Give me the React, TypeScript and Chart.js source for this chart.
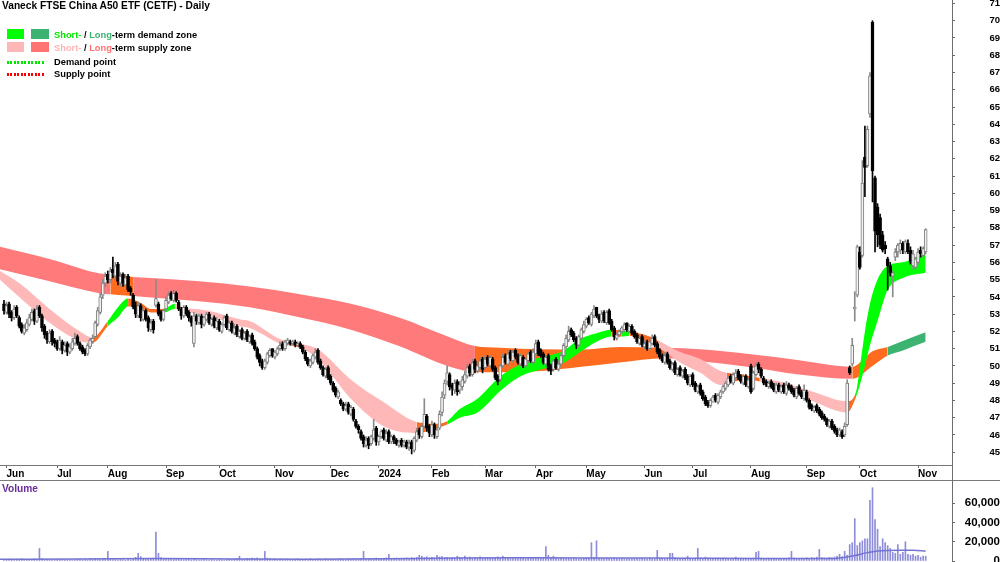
import React, { useEffect, useRef } from "react";
import { Chart, registerables } from "chart.js";

Chart.register(...registerables);

const FONT = '"Liberation Sans", Arial, Helvetica, sans-serif';

// ---- x axis (trading-day index) ----
const monthIdx = [1, 21, 41, 64, 85, 107, 129, 148, 169, 190, 210, 230, 253, 272, 295, 317, 338, 361];
const monthLabels = ["Jun", "Jul", "Aug", "Sep", "Oct", "Nov", "Dec", "2024", "Feb", "Mar", "Apr", "May", "Jun", "Jul", "Aug", "Sep", "Oct", "Nov"];
const priceTicks = [45, 46, 47, 48, 49, 50, 51, 52, 53, 54, 55, 56, 57, 58, 59, 60, 61, 62, 63, 64, 65, 66, 67, 68, 69, 70, 71];
const volTicks = [0, 20000, 40000, 60000];

// ---- daily candles ----
const opens = [
  53.6, 53.1, 53.6, 53.1, 52.8, 53.4, 52.8, 52.4, 51.9, 52.1,
  52.4, 52.7, 53.2, 52.6, 53.4, 52.9, 52.3, 51.9, 51.4, 52.0,
  51.5, 51.4, 51.0, 51.4, 50.9, 51.3, 50.8, 51.0, 51.3, 51.7,
  51.3, 51.1, 50.9, 50.7, 51.1, 51.4, 51.7, 52.4, 53.1, 54.1,
  54.8, 55.3, 55.0, 55.6, 55.2, 55.9, 54.8, 55.3, 54.7, 55.2,
  54.5, 54.1, 53.5, 52.9, 53.5, 52.7, 53.2, 52.8, 52.1, 52.6,
  53.5, 53.6, 53.1, 52.7, 53.3, 53.7, 54.2, 53.8, 54.2, 53.7,
  53.3, 52.9, 53.4, 53.1, 52.8, 51.3, 52.9, 52.5, 52.9, 52.4,
  52.7, 53.0, 52.4, 52.8, 52.2, 52.6, 52.0, 52.4, 52.9, 52.1,
  52.5, 51.9, 52.3, 51.7, 52.1, 51.6, 52.0, 51.4, 51.8, 51.4,
  51.0, 50.6, 50.3, 49.9, 50.2, 50.6, 51.0, 50.5, 50.7, 51.0,
  51.3, 51.0, 51.3, 51.4, 51.3, 51.4, 51.2, 51.3, 51.1, 50.8,
  50.4, 50.0, 50.2, 50.5, 50.9, 50.3, 49.9, 49.4, 49.9, 49.4,
  49.0, 48.7, 48.2, 48.0, 47.8, 47.5, 47.8, 47.2, 47.5, 46.8,
  46.5, 46.2, 45.9, 45.4, 45.8, 45.5, 45.8, 46.4, 45.6, 45.9,
  46.3, 45.7, 46.2, 45.6, 45.9, 45.7, 45.4, 45.7, 45.4, 45.6,
  45.3, 45.6, 45.1, 45.7, 46.3, 45.9, 46.5, 47.1, 46.5, 46.0,
  46.6, 45.9, 46.4, 47.3, 48.3, 49.1, 49.5, 48.9, 48.6, 49.1,
  48.6, 48.8, 49.1, 49.4, 50.0, 49.5, 50.3, 49.7, 49.9, 50.4,
  49.9, 50.5, 50.0, 50.4, 49.9, 49.4, 49.2, 50.0, 50.6, 50.1,
  50.8, 50.3, 50.9, 50.6, 50.1, 50.5, 50.0, 50.3, 50.8, 50.2,
  50.7, 51.4, 50.9, 50.7, 50.1, 50.6, 50.0, 49.8, 50.4, 49.8,
  50.1, 50.6, 51.1, 51.5, 52.1, 51.9, 51.6, 51.2, 51.6, 52.0,
  52.3, 52.8, 52.4, 52.9, 53.4, 52.9, 52.6, 53.1, 52.5, 53.2,
  52.6, 52.2, 51.6, 51.8, 52.0, 52.1, 52.5, 52.0, 52.3, 52.0,
  51.8, 51.3, 51.7, 51.1, 51.4, 51.0, 51.3, 51.7, 51.3, 50.9,
  50.6, 50.2, 50.7, 50.3, 49.8, 50.2, 49.5, 49.9, 49.4, 49.8,
  49.4, 48.9, 49.5, 49.0, 48.5, 48.9, 48.5, 48.2, 47.9, 47.7,
  47.9, 48.3, 47.9, 48.2, 48.5, 48.7, 48.9, 49.4, 49.0, 49.3,
  49.7, 49.4, 49.0, 49.4, 48.8, 50.0, 48.7, 49.5, 50.1, 49.8,
  49.3, 49.1, 48.8, 49.1, 48.9, 48.5, 48.9, 48.5, 48.9, 48.4,
  48.9, 48.8, 48.6, 48.2, 48.8, 48.5, 48.1, 48.5, 48.0, 47.7,
  47.4, 47.7, 47.5, 47.3, 47.1, 46.9, 46.5, 46.8, 46.5, 46.3,
  46.0, 46.2, 46.0, 46.6, 49.9, 50.1, 53.3, 54.1, 56.6, 56.4,
  62.1, 61.6, 64.6, 69.9, 60.9, 59.2, 58.6, 57.6, 57.0, 56.2,
  55.8, 55.2, 56.3, 56.6, 56.7, 57.1, 56.6, 57.1, 56.7, 55.8,
  55.7, 56.0, 56.7, 56.4, 56.6,
];
const highs = [
  53.8, 53.7, 53.7, 53.2, 53.5, 53.5, 52.9, 52.5, 52.4, 52.7,
  53.0, 53.3, 53.3, 53.5, 53.5, 53.0, 52.4, 52.0, 52.1, 52.1,
  51.6, 51.5, 51.7, 51.5, 51.4, 51.4, 51.3, 51.6, 51.9, 51.8,
  51.4, 51.2, 51.0, 51.3, 51.6, 51.8, 52.6, 53.4, 54.2, 55.0,
  55.4, 55.5, 55.7, 56.3, 56.0, 56.0, 55.4, 55.4, 55.3, 55.3,
  54.6, 54.2, 53.7, 53.7, 53.6, 53.4, 53.3, 52.9, 52.7, 52.7,
  55.0, 53.7, 53.2, 53.3, 54.0, 54.3, 54.3, 54.4, 54.3, 53.8,
  53.4, 53.5, 53.5, 53.2, 52.9, 53.1, 53.0, 53.0, 53.0, 52.9,
  53.1, 53.1, 52.8, 52.9, 52.8, 52.7, 52.5, 52.9, 53.0, 52.6,
  52.6, 52.4, 52.4, 52.1, 52.2, 52.0, 52.1, 51.8, 51.9, 51.5,
  51.1, 50.7, 50.4, 50.4, 50.8, 51.0, 51.0, 50.9, 51.1, 51.4,
  51.4, 51.5, 51.6, 51.5, 51.5, 51.5, 51.4, 51.4, 51.2, 50.9,
  50.5, 50.4, 50.7, 51.0, 51.0, 50.4, 50.0, 49.9, 50.0, 49.5,
  49.1, 48.8, 48.6, 48.1, 47.9, 47.9, 47.9, 47.7, 47.6, 46.9,
  46.6, 46.3, 46.0, 45.9, 45.9, 46.0, 46.9, 46.5, 46.0, 46.3,
  46.4, 46.3, 46.3, 46.0, 46.0, 45.8, 45.7, 45.8, 45.7, 45.7,
  45.7, 45.7, 45.9, 46.4, 46.4, 46.7, 48.1, 47.2, 46.6, 46.8,
  46.7, 46.4, 47.4, 48.5, 49.2, 50.0, 49.6, 49.0, 49.2, 49.2,
  49.1, 49.4, 49.7, 50.1, 50.1, 50.4, 50.4, 50.2, 50.5, 50.5,
  50.6, 50.6, 50.6, 50.5, 50.0, 49.5, 50.1, 50.7, 50.7, 50.9,
  50.9, 50.9, 51.0, 50.7, 50.7, 50.6, 50.5, 50.8, 50.9, 51.0,
  51.5, 51.5, 51.0, 50.8, 50.6, 50.7, 50.1, 50.4, 50.5, 50.3,
  50.7, 51.3, 51.8, 52.3, 52.2, 52.0, 51.7, 51.8, 52.2, 52.6,
  52.8, 52.9, 53.1, 53.5, 53.4, 53.0, 53.2, 53.2, 53.2, 53.3,
  52.7, 52.3, 51.9, 52.1, 52.3, 52.5, 52.5, 52.4, 52.4, 52.1,
  51.9, 51.8, 51.8, 51.5, 51.5, 51.6, 51.8, 51.8, 51.4, 51.0,
  50.7, 50.8, 50.8, 50.4, 50.2, 50.3, 49.9, 50.0, 49.8, 49.9,
  49.5, 49.5, 49.6, 49.1, 48.9, 49.0, 48.6, 48.3, 48.0, 48.1,
  48.3, 48.4, 48.4, 48.6, 48.9, 49.1, 49.4, 49.5, 49.6, 49.8,
  49.8, 49.5, 49.5, 49.5, 49.3, 50.1, 49.7, 50.2, 50.2, 49.9,
  49.4, 49.2, 49.1, 49.2, 49.0, 49.0, 49.0, 48.9, 49.0, 49.1,
  49.0, 48.9, 48.7, 48.8, 48.9, 48.6, 48.9, 48.6, 48.1, 47.8,
  47.7, 47.8, 47.6, 47.4, 47.2, 47.0, 46.9, 46.9, 46.6, 46.4,
  46.4, 46.3, 46.7, 49.2, 50.0, 51.6, 54.3, 57.0, 56.9, 61.9,
  63.9, 63.9, 67.0, 70.0, 61.0, 59.4, 58.8, 57.8, 57.2, 56.3,
  56.0, 55.5, 56.8, 57.1, 57.3, 57.2, 57.3, 57.3, 56.9, 56.7,
  56.3, 56.8, 56.9, 56.9, 57.95,
];
const lows = [
  53.0, 53.0, 52.8, 52.6, 52.7, 52.8, 52.2, 51.9, 51.8, 52.0,
  52.3, 52.6, 52.4, 52.5, 52.8, 52.0, 51.6, 51.3, 51.3, 51.2,
  51.1, 50.9, 50.9, 50.7, 50.8, 50.6, 50.7, 50.9, 51.2, 51.2,
  50.9, 50.7, 50.6, 50.6, 51.0, 51.3, 51.6, 52.3, 53.0, 53.9,
  54.6, 54.8, 54.8, 55.1, 55.0, 54.7, 54.6, 54.6, 54.6, 54.3,
  54.1, 53.3, 52.8, 52.8, 52.6, 52.6, 52.6, 52.0, 52.0, 51.9,
  53.4, 52.9, 52.6, 52.6, 53.2, 53.6, 53.8, 53.7, 53.7, 53.2,
  52.7, 52.8, 52.9, 52.6, 52.3, 51.1, 52.4, 52.4, 52.2, 52.3,
  52.6, 52.4, 52.3, 52.2, 52.1, 52.0, 51.9, 52.3, 52.1, 52.0,
  51.9, 51.8, 51.7, 51.6, 51.5, 51.5, 51.4, 51.3, 51.2, 50.9,
  50.4, 50.0, 49.8, 49.8, 50.1, 50.5, 50.5, 50.4, 50.6, 50.9,
  50.9, 50.9, 51.2, 51.2, 51.2, 51.1, 51.1, 51.0, 50.7, 50.3,
  50.0, 49.9, 50.1, 50.4, 50.1, 49.8, 49.4, 49.3, 49.2, 48.9,
  48.5, 48.2, 48.1, 47.7, 47.4, 47.4, 47.2, 47.1, 46.8, 46.4,
  46.1, 45.7, 45.3, 45.3, 45.2, 45.4, 45.7, 45.4, 45.4, 45.8,
  45.7, 45.6, 45.5, 45.5, 45.5, 45.4, 45.3, 45.3, 45.3, 45.2,
  45.1, 44.9, 45.0, 45.6, 45.8, 45.8, 46.4, 46.2, 45.9, 45.9,
  45.8, 45.8, 46.3, 47.1, 48.1, 48.9, 48.6, 48.3, 48.4, 48.3,
  48.4, 48.6, 49.0, 49.3, 49.4, 49.4, 49.6, 49.6, 49.8, 49.6,
  49.8, 50.0, 49.9, 49.7, 49.2, 48.9, 49.1, 49.9, 50.1, 50.0,
  50.3, 50.2, 50.4, 50.1, 50.0, 49.9, 49.9, 50.2, 50.2, 50.1,
  50.6, 50.6, 50.5, 50.1, 50.0, 49.7, 49.5, 49.7, 49.8, 49.7,
  49.9, 50.5, 51.0, 51.4, 51.7, 51.4, 51.0, 51.1, 51.5, 51.9,
  52.2, 52.4, 52.3, 52.8, 52.8, 52.5, 52.5, 52.5, 52.4, 52.4,
  52.0, 51.5, 51.5, 51.7, 51.9, 52.0, 52.0, 51.9, 51.8, 51.6,
  51.3, 51.2, 51.1, 51.0, 50.9, 50.9, 51.2, 51.1, 50.7, 50.4,
  50.2, 50.1, 50.1, 49.8, 49.7, 49.5, 49.4, 49.4, 49.3, 49.2,
  48.9, 48.8, 48.8, 48.5, 48.4, 48.3, 48.0, 47.7, 47.6, 47.6,
  47.9, 47.9, 47.8, 48.1, 48.4, 48.6, 48.8, 49.0, 48.9, 49.2,
  49.2, 49.0, 48.9, 48.8, 48.7, 48.4, 48.6, 49.4, 49.6, 49.3,
  48.9, 48.8, 48.7, 48.7, 48.5, 48.4, 48.5, 48.4, 48.4, 48.3,
  48.6, 48.4, 48.2, 48.1, 48.3, 48.1, 48.0, 47.9, 47.5, 47.4,
  47.3, 47.3, 47.1, 46.9, 46.8, 46.5, 46.4, 46.3, 46.1, 45.9,
  45.9, 45.8, 45.9, 46.5, 49.5, 50.0, 52.6, 54.0, 55.6, 56.3,
  59.8, 61.5, 64.4, 59.5, 56.6, 56.9, 56.8, 56.6, 56.5, 54.4,
  55.2, 54.0, 56.1, 56.3, 56.5, 56.5, 56.5, 56.5, 55.9, 55.6,
  55.6, 55.9, 56.3, 56.3, 56.5,
];
const closes = [
  53.2, 53.5, 53.0, 52.8, 53.3, 52.9, 52.3, 52.0, 52.2, 52.5,
  52.8, 53.1, 52.6, 53.3, 52.9, 52.2, 51.8, 51.5, 51.9, 51.4,
  51.3, 51.0, 51.5, 50.9, 51.2, 50.8, 51.1, 51.4, 51.6, 51.3,
  51.0, 50.8, 50.7, 51.2, 51.5, 51.6, 52.5, 53.2, 54.0, 54.8,
  55.2, 55.0, 55.5, 55.4, 55.8, 54.9, 55.2, 54.8, 55.1, 54.4,
  54.3, 53.4, 53.0, 53.5, 52.8, 53.2, 52.7, 52.2, 52.5, 52.1,
  53.9, 53.0, 52.7, 53.2, 53.8, 54.1, 53.9, 54.2, 53.8, 53.3,
  52.9, 53.4, 53.0, 52.8, 52.5, 52.9, 52.6, 52.9, 52.4, 52.8,
  53.0, 52.5, 52.7, 52.3, 52.6, 52.1, 52.4, 52.8, 52.2, 52.5,
  52.0, 52.2, 51.8, 52.0, 51.6, 51.9, 51.5, 51.7, 51.3, 51.0,
  50.5, 50.2, 49.9, 50.3, 50.7, 50.9, 50.6, 50.8, 51.0, 51.2,
  51.0, 51.4, 51.5, 51.3, 51.4, 51.2, 51.3, 51.1, 50.8, 50.4,
  50.1, 50.3, 50.6, 50.8, 50.2, 49.9, 49.5, 49.8, 49.3, 49.0,
  48.6, 48.3, 48.5, 47.8, 47.5, 47.7, 47.3, 47.6, 46.9, 46.5,
  46.3, 45.8, 45.5, 45.7, 45.4, 45.9, 46.3, 45.6, 45.9, 46.2,
  45.8, 46.1, 45.6, 45.9, 45.7, 45.5, 45.6, 45.4, 45.6, 45.3,
  45.5, 45.2, 45.8, 46.2, 46.0, 46.5, 47.2, 46.4, 46.1, 46.6,
  46.0, 46.3, 47.2, 48.2, 49.0, 49.6, 48.8, 48.7, 49.0, 48.5,
  48.9, 49.2, 49.5, 49.9, 49.6, 50.2, 49.8, 50.0, 50.3, 49.8,
  50.4, 50.1, 50.5, 49.8, 49.3, 49.1, 50.0, 50.5, 50.2, 50.7,
  50.4, 50.8, 50.5, 50.2, 50.6, 50.0, 50.4, 50.7, 50.3, 50.8,
  51.3, 50.7, 50.6, 50.2, 50.5, 49.8, 49.7, 50.3, 49.9, 50.1,
  50.6, 51.2, 51.6, 52.0, 51.8, 51.5, 51.2, 51.7, 52.1, 52.4,
  52.7, 52.5, 53.0, 53.3, 52.9, 52.7, 53.0, 52.6, 53.1, 52.5,
  52.1, 51.7, 51.8, 52.0, 52.2, 52.4, 52.1, 52.3, 51.9, 51.7,
  51.4, 51.6, 51.2, 51.3, 51.0, 51.4, 51.6, 51.2, 50.8, 50.5,
  50.3, 50.6, 50.2, 49.9, 50.1, 49.6, 49.8, 49.5, 49.7, 49.3,
  49.0, 49.4, 48.9, 48.6, 48.8, 48.4, 48.1, 47.8, 47.7, 48.0,
  48.2, 48.0, 48.3, 48.5, 48.8, 49.0, 49.3, 49.1, 49.5, 49.6,
  49.3, 49.1, 49.4, 48.9, 49.2, 48.5, 49.6, 50.0, 49.8, 49.4,
  49.0, 48.9, 49.0, 48.8, 48.6, 48.9, 48.6, 48.8, 48.5, 48.9,
  48.7, 48.5, 48.3, 48.7, 48.4, 48.2, 48.6, 48.0, 47.6, 47.5,
  47.6, 47.4, 47.2, 47.0, 46.9, 46.6, 46.8, 46.4, 46.2, 46.0,
  46.3, 45.9, 46.5, 49.0, 49.6, 51.2, 53.4, 56.9, 55.7, 60.6,
  61.5, 63.7, 66.8, 61.3, 57.8, 57.6, 57.0, 56.7, 56.8, 55.8,
  55.4, 55.4, 56.6, 57.0, 57.1, 56.7, 57.2, 56.6, 56.0, 56.5,
  56.2, 56.6, 56.5, 56.8, 57.9,
];
const volumes = [
  1500, 1200, 2000, 900, 1800, 1300, 1100, 2200, 1400, 1000,
  1600, 1300, 2100, 1700, 13000, 2400, 1200, 1500, 1100, 1800,
  900, 1400, 1300, 2000, 1100, 1600, 1200, 900, 1500, 1300,
  1800, 1000, 1400, 1200, 2100, 1600, 2500, 1900, 1400, 2200,
  1700, 10000, 2300, 1500, 1800, 1200, 2000, 1400, 1100, 1700,
  1300, 2600, 3800, 8000, 4500, 2200, 2800, 1900, 2400, 3000,
  30000, 8000, 3500, 2600, 2000, 1800, 2400, 1500, 1900, 2100,
  1600, 1300, 2200, 1700, 1200, 2500, 1500, 1100, 1400, 1800,
  1300, 1000, 1600, 1200, 900, 1500, 1300, 1100, 1700, 2000,
  1400, 2300, 2600, 5000, 1800, 1500, 2700, 2200, 3000, 2400,
  3200, 2100, 1800, 10000, 3000, 2500, 1900, 2300, 1600, 2000,
  1800, 1500, 2200, 1300, 1700, 1900, 2400, 1600, 1400, 2100,
  1800, 2600, 1500, 1900, 2200, 1700, 1300, 2400, 1800, 1600,
  2000, 1500, 1900, 2300, 1700, 1400, 2100, 1800, 2500, 1600,
  1900, 2400, 10000, 2200, 2800, 1900, 2600, 3100, 2400, 2000,
  2700, 3300, 7000, 2600, 2200, 3000, 2500, 1900, 2800, 3200,
  2600, 3500, 2900, 3800, 6000, 5000, 3600, 4200, 3100, 3900,
  3300, 6000, 4200, 4500, 3400, 3800, 2900, 3600, 3100, 5000,
  3700, 2800, 5000, 3300, 4100, 2600, 3500, 3000, 4200, 3300,
  2900, 3600, 3100, 2700, 3800, 4300, 3200, 5000, 3000, 2800,
  3400, 2600, 3100, 2400, 3600, 2900, 2500, 3300, 2700, 3100,
  2600, 4000, 2800, 3200, 15000, 6000, 3300, 5000, 2900, 2400,
  3000, 2500, 2200, 2800, 2100, 2600, 2300, 1900, 2500, 2800,
  3200, 2700, 19000, 3500, 21000, 3000, 2600, 2300, 2900, 2500,
  2200, 2800, 2400, 2000, 2600, 2300, 1900, 2500, 2100, 2700,
  2300, 2000, 2600, 2200, 1800, 2900, 2400, 2100, 11000, 3100,
  2700, 2300, 2900, 8000, 8000, 3200, 2600, 2200, 2800, 2400,
  5000, 2600, 2300, 2900, 13000, 3300, 2700, 4000, 3000, 2500,
  2800, 2300, 2600, 2200, 2900, 2400, 2000, 2700, 2300, 4000,
  2500, 2200, 2800, 2400, 2000, 2600, 3000, 9000, 10000, 3100,
  2600, 2200, 2900, 2400, 2100, 2700, 2300, 2000, 2800, 2500,
  3200, 10000, 3000, 2600, 2300, 2900, 2500, 3300, 2800, 3500,
  3000, 4000, 12000, 3600, 3200, 2900, 3800, 3300, 4100, 5000,
  7000, 4500, 10000, 6000, 17000, 19000, 44000, 16000, 19000, 21000,
  23000, 23000, 63000, 76000, 43000, 33000, 15000, 23000, 19000, 16000,
  13000, 9000, 8000, 17000, 7000, 9000, 20000, 7000, 6000, 7000,
  5000, 6000, 4000, 5000, 5000,
];

// ---- volume moving average ----
const volMaX = [-1.6, 30, 60, 90, 120, 150, 180, 210, 240, 270, 300, 327, 335, 341, 345, 354, 359, 364];
const volMa = [1800, 2000, 2600, 2200, 1900, 2300, 3200, 3300, 3100, 2900, 2700, 2500, 5200, 8700, 10500, 11100, 11100, 10400];

// ---- long-term zone band ----
const ltX = [-1.6, 18, 38, 42, 51, 58, 77, 97, 117, 137, 156, 176, 186, 196, 212, 228, 243, 261, 275, 295, 314, 335, 343, 349, 355, 364];
const ltUpper = [56.9, 56.2, 55.35, 55.3, 55.15, 55.1, 54.9, 54.6, 54.15, 53.6, 52.8, 51.66, 51.15, 51.05, 50.96, 50.95, 51.1, 51.05, 50.96, 50.67, 50.33, 49.95, 50.85, 51.1, 51.45, 51.95];
const ltLower = [55.6, 54.9, 54.2, 54.15, 54.05, 53.97, 53.75, 53.4, 52.8, 52.1, 51.15, 49.95, 49.65, 49.63, 49.7, 49.95, 50.2, 50.45, 50.27, 49.92, 49.5, 49.25, 50.0, 50.6, 50.9, 51.4];
const ltZone = ["S", "S", "S", "O", "S", "S", "S", "S", "S", "S", "S", "S", "O", "O", "O", "O", "O", "S", "S", "S", "S", "O", "O", "D", "D", "-"];

// ---- short-term zone band ----
const stX = [-1.6, 6, 18, 30, 35, 41, 45, 49, 54, 58, 63, 67.5, 69.5, 81, 93, 97, 110, 113, 117, 124, 137, 150, 163, 170, 175, 180, 187, 196, 204, 212, 220, 228, 234, 240, 244, 247, 253, 258, 267, 275, 283, 285.5, 293.5, 298.5, 306.5, 319.5, 333, 336.5, 338, 340, 342, 345, 349, 355, 364];
const stUpper = [55.5, 54.8, 53.3, 52.0, 51.65, 52.6, 53.4, 53.9, 53.65, 53.3, 53.3, 53.6, 53.45, 53.2, 52.7, 52.6, 51.5, 51.45, 51.3, 50.96, 49.2, 47.9, 46.75, 46.65, 46.8, 47.5, 48.1, 49.4, 50.1, 50.5, 50.8, 51.6, 51.9, 52.1, 52.05, 52.0, 51.8, 51.5, 50.8, 50.4, 49.7, 49.6, 49.45, 49.3, 49.1, 48.5, 47.95, 48.5, 49.9, 52.0, 53.6, 55.0, 55.8, 56.0, 56.5];
const stLower = [55.0, 54.0, 52.5, 51.45, 51.35, 52.3, 52.8, 53.45, 53.35, 53.1, 53.1, 53.3, 53.2, 52.9, 52.3, 52.2, 51.25, 51.2, 51.05, 50.4, 48.1, 46.5, 46.1, 46.35, 46.6, 47.0, 47.3, 48.55, 49.4, 49.8, 50.1, 50.85, 51.4, 51.7, 51.7, 51.75, 51.4, 51.1, 50.2, 49.6, 48.9, 49.0, 49.2, 49.1, 48.8, 47.95, 47.3, 48.2, 48.9, 50.0, 51.2, 52.6, 54.4, 55.1, 55.4];
const stZone = ["s", "s", "s", "s", "O", "g", "g", "O", "O", "O", "g", "s", "s", "s", "s", "s", "s", "O", "s", "s", "s", "s", "O", "O", "g", "g", "g", "g", "g", "g", "g", "g", "g", "O", "g", "O", "O", "s", "s", "s", "s", "O", "O", "s", "s", "s", "O", "g", "g", "g", "g", "g", "g", "g", "-"];

const X_MIN = -1.58;
const X_MAX = 374.4;

const ZONE_COLORS: Record<string, string> = {
  S: "#ff7b7b",
  s: "#ffb8b8",
  O: "#ff6b1f",
  g: "#00ff00",
  D: "#3cb371",
  "-": "rgba(0,0,0,0)",
};

function bandDatasets(xs: number[], upper: number[], lower: number[], zones: string[], order: number) {
  return [
    {
      type: "line",
      data: xs.map((x, i) => ({ x, y: upper[i] })),
      borderColor: "rgba(0,0,0,0)",
      borderWidth: 1,
      pointRadius: 0,
      pointHoverRadius: 0,
      fill: "+1",
      backgroundColor: ZONE_COLORS[zones[0]],
      cubicInterpolationMode: "monotone",
      segment: { backgroundColor: (c: any) => ZONE_COLORS[zones[c.p0DataIndex]] },
      order,
    },
    {
      type: "line",
      data: xs.map((x, i) => ({ x, y: lower[i] })),
      borderColor: "rgba(0,0,0,0)",
      borderWidth: 1,
      pointRadius: 0,
      pointHoverRadius: 0,
      fill: false,
      cubicInterpolationMode: "monotone",
      order: order - 1,
    },
  ];
}

const fmtThousands = (v: number) => String(v).replace(/\B(?=(\d{3})+(?!\d))/g, ",");

// strip the automatic label-overflow padding Chart.js reserves around a scale
const noScalePadding = (s: any) => {
  s.paddingTop = 0;
  s.paddingBottom = 0;
  s.paddingLeft = 0;
  s.paddingRight = 0;
};

export default function App() {
  const priceRef = useRef<HTMLCanvasElement>(null);
  const volRef = useRef<HTMLCanvasElement>(null);

  useEffect(() => {
    const up = (i: number) => closes[i] >= opens[i];
    const wickData = closes.map((_, i) => ({ x: i, y: [lows[i], highs[i]] }));
    const bodyData = closes.map((_, i) => ({ x: i, y: [opens[i], closes[i]] }));

    const price = new Chart(priceRef.current as HTMLCanvasElement, {
      type: "bar",
      data: {
        datasets: [
          ...bandDatasets(ltX, ltUpper, ltLower, ltZone, 10),
          ...bandDatasets(stX, stUpper, stLower, stZone, 8),
          {
            type: "bar",
            data: wickData,
            barThickness: 1,
            grouped: false,
            backgroundColor: (c: any) => (up(c.dataIndex) ? "#8a8a8a" : "#000000"),
            borderWidth: 0,
            order: 2,
          },
          {
            type: "bar",
            data: bodyData,
            barThickness: 3,
            grouped: false,
            minBarLength: 1,
            backgroundColor: (c: any) => (up(c.dataIndex) ? "#f2f2f2" : "#000000"),
            borderColor: (c: any) => (up(c.dataIndex) ? "#7d7d7d" : "#000000"),
            borderWidth: 1,
            borderSkipped: false,
            order: 1,
          },
        ] as any,
      },
      options: {
        responsive: false,
        maintainAspectRatio: false,
        animation: false,
        devicePixelRatio: 1,
        events: [],
        layout: { autoPadding: false, padding: 0 },
        plugins: { legend: { display: false }, tooltip: { enabled: false }, title: { display: false } },
        scales: {
          x: {
            type: "linear",
            min: X_MIN,
            max: X_MAX,
            offset: false,
            position: "bottom",
            afterBuildTicks: (s: any) => {
              s.ticks = monthIdx.map((v) => ({ value: v }));
            },
            afterFit: (s: any) => {
              s.height = 15;
              noScalePadding(s);
            },
            ticks: {
              callback: (_v: any, i: number) => monthLabels[i],
              align: "start",
              autoSkip: false,
              maxRotation: 0,
              minRotation: 0,
              padding: 0,
              color: "#000",
              font: { family: FONT, size: 10, weight: "bold" },
            },
            grid: { display: true, drawOnChartArea: false, drawTicks: true, tickLength: 3, color: "#666", offset: false },
            border: { display: true, color: "#777" },
          },
          y: {
            type: "linear",
            position: "right",
            min: 44.26,
            max: 71.2,
            beginAtZero: false,
            afterBuildTicks: (s: any) => {
              s.ticks = priceTicks.map((v) => ({ value: v }));
            },
            afterFit: (s: any) => {
              s.width = 48;
              noScalePadding(s);
            },
            ticks: {
              crossAlign: "far",
              padding: 31,
              autoSkip: false,
              color: "#000",
              font: { family: FONT, size: 9.5, weight: "bold" },
            },
            grid: { display: true, drawOnChartArea: false, drawTicks: true, tickLength: 3, color: "#666" },
            border: { display: false },
          },
        },
      } as any,
    });

    const vol = new Chart(volRef.current as HTMLCanvasElement, {
      type: "bar",
      data: {
        datasets: [
          {
            type: "line",
            data: volMaX.map((x, i) => ({ x, y: volMa[i] })),
            borderColor: "#7373d2",
            borderWidth: 1.5,
            pointRadius: 0,
            fill: false,
            cubicInterpolationMode: "monotone",
            order: 0,
          },
          {
            type: "bar",
            data: volumes.map((v, i) => ({ x: i, y: v })),
            barThickness: 1,
            grouped: false,
            backgroundColor: "#8d8ddb",
            borderWidth: 0,
            order: 1,
          },
        ] as any,
      },
      options: {
        responsive: false,
        maintainAspectRatio: false,
        animation: false,
        devicePixelRatio: 1,
        events: [],
        layout: { autoPadding: false, padding: { left: 0, right: 0, top: 0, bottom: 1 } },
        plugins: { legend: { display: false }, tooltip: { enabled: false } },
        scales: {
          x: { type: "linear", min: X_MIN, max: X_MAX, offset: false, display: false },
          y: {
            type: "linear",
            position: "right",
            min: 0,
            max: 83000,
            beginAtZero: true,
            afterBuildTicks: (s: any) => {
              s.ticks = volTicks.map((v) => ({ value: v }));
            },
            afterFit: (s: any) => {
              s.width = 48;
              noScalePadding(s);
            },
            ticks: {
              crossAlign: "far",
              padding: 7,
              autoSkip: false,
              color: "#000",
              callback: (v: any) => fmtThousands(Number(v)),
              font: { family: FONT, size: 11.5, weight: "bold" },
            },
            grid: { display: true, drawOnChartArea: false, drawTicks: true, tickLength: 3, color: "#666" },
            border: { display: false },
          },
        },
      } as any,
    });

    return () => {
      price.destroy();
      vol.destroy();
    };
  }, []);

  const legendText: React.CSSProperties = {
    position: "absolute",
    left: 54,
    fontSize: 9.3,
    fontWeight: "bold",
    lineHeight: "12px",
    color: "#000",
    whiteSpace: "nowrap",
  };
  const sw = (left: number, top: number, w: number, color: string): React.CSSProperties => ({
    position: "absolute",
    left,
    top,
    width: w,
    height: 10,
    background: color,
  });
  const dots = (top: number, color: string): React.CSSProperties => ({
    position: "absolute",
    left: 7,
    top,
    width: 38,
    height: 3,
    background: `repeating-linear-gradient(90deg, ${color} 0px, ${color} 2px, transparent 2px, transparent 3.5px)`,
  });

  return (
    <div
      style={{
        position: "fixed",
        left: 0,
        top: 0,
        width: 1000,
        height: 562,
        background: "#ffffff",
        overflow: "hidden",
        fontFamily: FONT,
      }}
    >
      <canvas ref={priceRef} width={1000} height={480} style={{ position: "absolute", left: 0, top: 0, width: 1000, height: 480 }} />
      <canvas ref={volRef} width={1000} height={81} style={{ position: "absolute", left: 0, top: 481, width: 1000, height: 81 }} />
      <div style={{ position: "absolute", left: 0, top: 480, width: 1000, height: 1, background: "#7a7a7a" }} />
      <div style={{ position: "absolute", left: 952, top: 0, width: 1, height: 562, background: "#6e6e6e" }} />

      <div style={{ position: "absolute", left: 2, top: 0, fontSize: 10.2, fontWeight: "bold", lineHeight: "12px", color: "#000", whiteSpace: "nowrap" }}>
        Vaneck FTSE China A50 ETF (CETF) - Daily
      </div>

      <div style={sw(7, 29, 17, "#00ff00")} />
      <div style={sw(31, 29, 18, "#3cb371")} />
      <div style={{ ...legendText, top: 29 }}>
        <span style={{ color: "#00e600" }}>Short-</span> / <span style={{ color: "#3cb371" }}>Long</span>-term demand zone
      </div>
      <div style={sw(7, 42, 17, "#ffb6b6")} />
      <div style={sw(31, 42, 18, "#ff7373")} />
      <div style={{ ...legendText, top: 42 }}>
        <span style={{ color: "#ffb3b3" }}>Short-</span> / <span style={{ color: "#ff7070" }}>Long</span>-term supply zone
      </div>
      <div style={dots(61, "#00e600")} />
      <div style={{ ...legendText, top: 56 }}>Demand point</div>
      <div style={dots(73, "#ff0000")} />
      <div style={{ ...legendText, top: 68 }}>Supply point</div>

      <div style={{ position: "absolute", left: 2, top: 483, fontSize: 10.2, fontWeight: "bold", lineHeight: "12px", color: "#6a2c9e", whiteSpace: "nowrap" }}>
        Volume
      </div>
    </div>
  );
}
